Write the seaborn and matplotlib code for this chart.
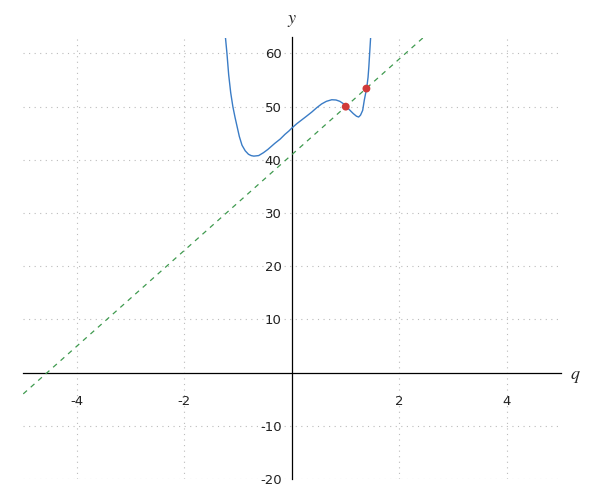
import matplotlib
matplotlib.use("Agg")
import matplotlib.pyplot as plt
import matplotlib.transforms as mtransforms
import seaborn as sns
import pandas as pd

# ---- data ----
curve_x = [-1.238, -1.21, -1.178, -1.14, -1.10, -1.06, -1.02, -0.98, -0.93,
           -0.87, -0.81, -0.76, -0.71, -0.62, -0.53, -0.45, -0.32, -0.22,
           -0.13, -0.06, 0.0, 0.09, 0.18, 0.27, 0.37, 0.46, 0.55, 0.64, 0.74,
           0.82, 0.89, 0.95, 1.0, 1.04, 1.08, 1.14, 1.20, 1.24, 1.275, 1.315,
           1.345, 1.37, 1.39, 1.415, 1.43, 1.445, 1.463]
curve_y = [63.0, 60.0, 56.0, 52.6, 50.0, 48.0, 46.2, 44.4, 42.75,
           41.7, 41.05, 40.8, 40.7, 40.8, 41.35, 41.95, 43.1, 43.9,
           44.8, 45.4, 46.0, 46.8, 47.5, 48.2, 49.0, 49.8, 50.5, 51.0, 51.3,
           51.25, 51.0, 50.6, 50.0, 49.7, 49.3, 48.7, 48.2, 48.05, 48.4, 49.3,
           51.2, 52.5, 53.5, 55.5, 57.5, 60.0, 63.0]
line_x = [-5.0, 2.5]
line_y = [-4.0, 63.5]
point_x = [1.0, 1.385]
point_y = [50.0, 53.4]
x_ticks = [-4, -2, 2, 4]
y_ticks = [-20, -10, 10, 20, 30, 40, 50, 60]

sns.set_style("white")
plt.rcParams["axes.unicode_minus"] = False
plt.rcParams["mathtext.fontset"] = "stix"
plt.rcParams["font.family"] = ["DejaVu Sans"]

fig = plt.figure(figsize=(6, 5), dpi=100)
ax = fig.add_axes([0.03875, 0.042, 0.8958, 0.883])

curve_df = pd.DataFrame({"x": curve_x, "y": curve_y})
line_df = pd.DataFrame({"x": line_x, "y": line_y})
pts_df = pd.DataFrame({"x": point_x, "y": point_y})

sns.lineplot(data=curve_df, x="x", y="y", sort=False, ax=ax,
             color="#3a7cc6", linewidth=1.0, zorder=3)
sns.lineplot(data=line_df, x="x", y="y", sort=False, ax=ax,
             color="#3f9a4f", linewidth=0.9, linestyle=(0, (4, 4)), zorder=3)
sns.scatterplot(data=pts_df, x="x", y="y", ax=ax, color="#d03a3a",
                s=32, edgecolor="none", zorder=4)

ax.set_xlim(-5, 5)
ax.set_ylim(-20, 63)
ax.set_xticks(x_ticks)
ax.set_yticks(y_ticks)
ax.set_xlabel("")
ax.set_ylabel("")

for s in ["top", "right"]:
    ax.spines[s].set_visible(False)
for s in ["left", "bottom"]:
    ax.spines[s].set_position(("data", 0))
    ax.spines[s].set_color("#000000")
    ax.spines[s].set_linewidth(0.9)

ax.tick_params(axis="both", direction="out", length=4, width=0.9,
               colors="#000000", labelsize=9.5, labelcolor="#222222")
ax.tick_params(axis="x", pad=12)
ax.grid(True, linestyle=(0, (1, 4)), color="#bbbbbb", linewidth=0.8)
ax.set_axisbelow(True)

tx = mtransforms.blended_transform_factory(ax.transData, ax.transAxes)
ax.text(0, 1.02, "$y$", transform=tx, ha="center", va="bottom", fontsize=13)
ty = mtransforms.blended_transform_factory(ax.transAxes, ax.transData)
ax.text(1.017, -0.6, "$q$", transform=ty, ha="left", va="center", fontsize=13)

fig.savefig("out.png", dpi=100)
